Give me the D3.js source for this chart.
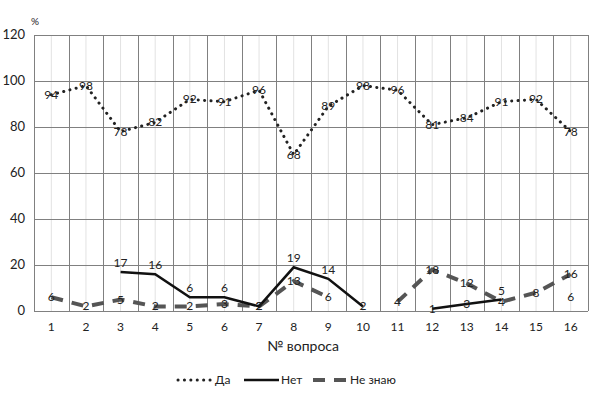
<!DOCTYPE html>
<html>
<head>
<meta charset="utf-8">
<script src="https://cdn.jsdelivr.net/npm/d3@7"></script>
<style>
  html, body { margin: 0; background: #fff; }
  svg text { font-family: Lato, "Open Sans", sans-serif; fill: #222; }
</style>
</head>
<body>
<svg id="chart" width="600" height="396"></svg>
<script>
// question numbers
var questions = ["1","2","3","4","5","6","7","8","9","10","11","12","13","14","15","16"];
// answers, %
var yes     = [94, 98, 78, 82, 92, 91, 96, 68, 89, 98, 96, 81, 84, 91, 92, 78];
var no      = [null, null, 17, 16, 6, 6, 2, 19, 14, 2, null, 1, 3, 5, null, 6];
var dontKnow = [6, 2, 5, 2, 2, 3, 2, 13, 6, null, 4, 18, 12, 4, 8, 16];
var yTicks  = [0, 20, 40, 60, 80, 100, 120];

var svg = d3.select("#chart");
var plotLeft = 34, plotRight = 588, plotTop = 35, plotBottom = 311;

var x = d3.scaleBand().domain(questions).range([plotLeft, plotRight]);
var y = d3.scaleLinear().domain([0, 120]).range([plotBottom, plotTop]);
var cx = function(i) { return x(questions[i]) + x.bandwidth() / 2; };

// faint lines at band centres
svg.append("g").selectAll("line").data(questions).join("line")
    .attr("x1", function(d, i) { return cx(i); })
    .attr("x2", function(d, i) { return cx(i); })
    .attr("y1", plotTop).attr("y2", plotBottom)
    .attr("stroke", "#e2e2e2").attr("stroke-width", 1);

// grid
svg.append("g").selectAll("line").data(yTicks).join("line")
    .attr("x1", plotLeft).attr("x2", plotRight)
    .attr("y1", function(d) { return Math.round(y(d)) + 0.5; })
    .attr("y2", function(d) { return Math.round(y(d)) + 0.5; })
    .attr("stroke", "#808080").attr("stroke-width", 1);

var edges = questions.map(function(d) { return x(d); }).concat([plotRight]);
svg.append("g").selectAll("line").data(edges).join("line")
    .attr("x1", function(d) { return Math.round(d) + 0.5; })
    .attr("x2", function(d) { return Math.round(d) + 0.5; })
    .attr("y1", plotTop).attr("y2", plotBottom)
    .attr("stroke", "#808080").attr("stroke-width", 1);

// y labels
svg.append("g").selectAll("text").data(yTicks).join("text")
    .attr("x", 25).attr("y", function(d) { return y(d) + 4; })
    .attr("text-anchor", "end").attr("font-size", 13)
    .text(function(d) { return d; });
svg.append("text").attr("x", 31).attr("y", 25).attr("font-size", 10).text("%");

// x labels
svg.append("g").selectAll("text").data(questions).join("text")
    .attr("x", function(d, i) { return cx(i); }).attr("y", 331)
    .attr("text-anchor", "middle").attr("font-size", 12)
    .text(function(d) { return d; });
svg.append("text").attr("x", 303).attr("y", 351)
    .attr("text-anchor", "middle").attr("font-size", 14).text("№ вопроса");

var line = d3.line()
    .defined(function(d) { return d != null; })
    .x(function(d, i) { return cx(i); })
    .y(function(d) { return y(d); });

var styles = {
  yes:  { stroke: "#222", width: 3, dash: "0.1 6.3", cap: "round" },
  no:   { stroke: "#111", width: 2.5, dash: null, cap: "butt" },
  dk:   { stroke: "#555", width: 4, dash: "12 9", cap: "butt" }
};

// labels sit on the point; "above" series keeps small or lone values on the point too
function drawSeries(data, s, above) {
  svg.append("path").datum(data)
      .attr("d", line)
      .attr("fill", "none")
      .attr("stroke", s.stroke)
      .attr("stroke-width", s.width)
      .attr("stroke-linecap", s.cap)
      .attr("stroke-dasharray", s.dash);
  svg.append("g").selectAll("text")
      .data(data.map(function(v, i) { return { v: v, i: i }; })
                .filter(function(d) { return d.v != null; }))
      .join("text")
      .attr("x", function(d) { return cx(d.i); })
      .attr("y", function(d) {
        var lone = data[d.i - 1] == null && data[d.i + 1] == null;
        var up = above && d.v > 3 && !lone;
        return y(d.v) + (up ? -5 : 4);
      })
      .attr("text-anchor", "middle").attr("font-size", 12)
      .text(function(d) { return d.v; });
}

drawSeries(dontKnow, styles.dk, false);
drawSeries(no, styles.no, true);
drawSeries(yes, styles.yes, false);

// legend
var legend = [
  { name: "Да", s: styles.yes, x: 178 },
  { name: "Нет", s: styles.no, x: 244 },
  { name: "Не знаю", s: styles.dk, x: 313 }
];
var lg = svg.append("g").selectAll("g").data(legend).join("g")
    .attr("transform", function(d) { return "translate(" + d.x + ",380)"; });
lg.append("line")
    .attr("x1", 0).attr("x2", 35).attr("y1", 0).attr("y2", 0)
    .attr("stroke", function(d) { return d.s.stroke; })
    .attr("stroke-width", function(d) { return d.s.width; })
    .attr("stroke-linecap", function(d) { return d.s.cap; })
    .attr("stroke-dasharray", function(d) { return d.s.dash; });
lg.append("text").attr("x", 37).attr("y", 4).attr("font-size", 12)
    .text(function(d) { return d.name; });
</script>
</body>
</html>
